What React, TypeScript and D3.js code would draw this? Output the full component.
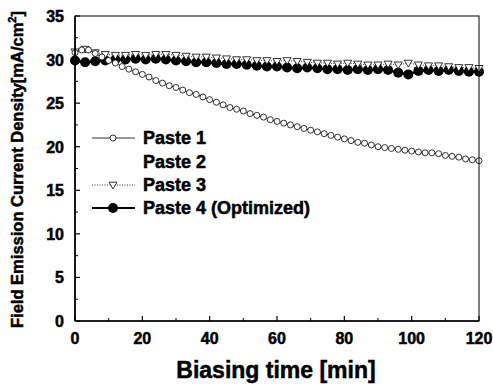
import * as d3 from 'd3';
import React from 'react';

// Paste 1: open circles, every 2 min
const time1 = d3.range(0, 121, 2);
const paste1 = [
  30.8, 31.1, 31.1, 30.7, 30.3, 29.9, 29.6, 29.2, 28.9, 28.6, 28.3, 28.0, 27.6,
  27.3, 27.0, 26.8, 26.5, 26.2, 26.0, 25.7, 25.4, 25.1, 24.8, 24.5, 24.3, 24.1,
  23.8, 23.6, 23.4, 23.1, 22.9, 22.7, 22.5, 22.3, 22.1, 21.9, 21.7, 21.5, 21.3,
  21.1, 20.9, 20.7, 20.5, 20.4, 20.2, 20.0, 19.9, 19.8, 19.7, 19.6, 19.5, 19.4,
  19.3, 19.3, 19.2, 19.0, 18.9, 18.8, 18.6, 18.5, 18.4,
];

// Paste 3 and Paste 4: every 3 min
const time3 = d3.range(0, 121, 3);
const paste3 = [
  30.9, 31.2, 30.8, 30.6, 30.5, 30.5, 30.6, 30.5, 30.6, 30.6, 30.5, 30.4, 30.3,
  30.3, 30.2, 30.1, 30.0, 30.0, 29.9, 29.9, 29.8, 29.9, 29.8, 29.7, 29.6, 29.6,
  29.5, 29.6, 29.5, 29.4, 29.4, 29.5, 29.4, 29.6, 29.4, 29.3, 29.3, 29.2, 29.1,
  29.1, 29.0,
];
const paste4 = [
  29.9, 29.7, 29.8, 29.9, 30.0, 30.0, 30.1, 30.0, 30.1, 30.0, 29.9, 29.8, 29.7,
  29.7, 29.6, 29.5, 29.5, 29.4, 29.3, 29.2, 29.2, 29.1, 29.0, 29.1, 29.0, 28.9,
  28.9, 28.8, 28.9, 28.8, 28.9, 28.8, 28.5, 28.3, 28.7, 28.8, 28.7, 28.8, 28.7,
  28.6, 28.6,
];

const xTicks = [0, 20, 40, 60, 80, 100, 120];
const yTicks = [0, 5, 10, 15, 20, 25, 30, 35];
const legendLabels = ['Paste 1', 'Paste 2', 'Paste 3', 'Paste 4 (Optimized)'];

const font = '"Liberation Sans", Arial, sans-serif';

export default function App() {
  const width = 493;
  const height = 384;
  const left = 75;
  const right = 479;
  const top = 16;
  const bottom = 321;

  const x = d3.scaleLinear().domain([0, 120]).range([left, right]);
  const y = d3.scaleLinear().domain([0, 35]).range([bottom, top]);

  const line = d3
    .line<[number, number]>()
    .x((d) => x(d[0]))
    .y((d) => y(d[1]));

  const s1: [number, number][] = time1.map((t, i) => [t, paste1[i]]);
  const s3: [number, number][] = time3.map((t, i) => [t, paste3[i]]);
  const s4: [number, number][] = time3.map((t, i) => [t, paste4[i]]);

  const tri = (cx: number, cy: number, r: number) =>
    `M${cx - r},${cy - r * 0.7}L${cx + r},${cy - r * 0.7}L${cx},${cy + r}Z`;

  const xMinor = d3.range(10, 120, 20);
  const yMinor = d3.range(2.5, 35, 5);
  const legendY = [138, 162, 185, 208];
  const heavy = { stroke: '#000', strokeWidth: 0.5 };

  return (
    <svg
      width={width}
      height={height}
      style={{ position: 'absolute', left: 0, top: 0, background: '#fff' }}
      fontFamily={font}
      fontWeight="bold"
    >
      <rect x={0} y={0} width={width} height={height} fill="#fff" />

      {/* Paste 4 */}
      <path d={line(s4) || ''} fill="none" stroke="#000" strokeWidth={2.5} />
      {s4.map((d, i) => (
        <circle key={'p4' + i} cx={x(d[0])} cy={y(d[1])} r={5} fill="#000" />
      ))}

      {/* Paste 3 */}
      <path
        d={line(s3) || ''}
        fill="none"
        stroke="#000"
        strokeWidth={0.8}
        strokeDasharray="1,1.5"
      />
      {s3.map((d, i) => (
        <path
          key={'p3' + i}
          d={tri(x(d[0]), y(d[1]), 4)}
          fill="#fff"
          stroke="#000"
          strokeWidth={0.8}
        />
      ))}

      {/* Paste 1 */}
      <path d={line(s1) || ''} fill="none" stroke="#000" strokeWidth={0.8} />
      {s1.map((d, i) => (
        <circle
          key={'p1' + i}
          cx={x(d[0])}
          cy={y(d[1])}
          r={3}
          fill="#fff"
          stroke="#000"
          strokeWidth={0.8}
        />
      ))}

      {/* frame */}
      <rect
        x={left}
        y={top}
        width={right - left}
        height={bottom - top}
        fill="none"
        stroke="#000"
        strokeWidth={1}
      />
      <line x1={left} x2={right} y1={bottom} y2={bottom} stroke="#000" strokeWidth={1.6} />
      <line x1={left} x2={left} y1={top} y2={bottom} stroke="#000" strokeWidth={1.6} />

      {/* x ticks */}
      {xTicks.map((t) => (
        <g key={'xt' + t}>
          <line x1={x(t)} x2={x(t)} y1={bottom} y2={bottom - 5} stroke="#000" strokeWidth={1.2} />
          <text x={x(t)} y={bottom + 23} fontSize={16} textAnchor="middle" {...heavy}>
            {t}
          </text>
        </g>
      ))}
      {xMinor.map((t) => (
        <line key={'xm' + t} x1={x(t)} x2={x(t)} y1={bottom} y2={bottom - 3} stroke="#000" strokeWidth={1} />
      ))}

      {/* y ticks */}
      {yTicks.map((t) => (
        <g key={'yt' + t}>
          <line x1={left} x2={left + 5} y1={y(t)} y2={y(t)} stroke="#000" strokeWidth={1.2} />
          <text x={left - 11} y={y(t) + 6} fontSize={16} textAnchor="end" {...heavy}>
            {t}
          </text>
        </g>
      ))}
      {yMinor.map((t) => (
        <line key={'ym' + t} x1={left} x2={left + 3} y1={y(t)} y2={y(t)} stroke="#000" strokeWidth={1} />
      ))}

      {/* axis titles */}
      <text x={276} y={378} fontSize={23} textAnchor="middle" {...heavy}>
        Biasing time [min]
      </text>
      <text
        transform={`translate(23,${(top + bottom) / 2 + 1}) rotate(-90)`}
        fontSize={16.5}
        textAnchor="middle"
        {...heavy}
      >
        Field Emission Current Density[mA/cm
        <tspan dy={-7} fontSize={11}>2</tspan>
        <tspan dy={7}>]</tspan>
      </text>

      {/* legend */}
      <g>
        <line x1={92} x2={135} y1={legendY[0]} y2={legendY[0]} stroke="#000" strokeWidth={0.8} />
        <circle cx={113} cy={legendY[0]} r={3} fill="#fff" stroke="#000" strokeWidth={0.8} />
        <line
          x1={92}
          x2={135}
          y1={legendY[2]}
          y2={legendY[2]}
          stroke="#000"
          strokeWidth={0.8}
          strokeDasharray="1,1.5"
        />
        <path d={tri(113, legendY[2], 4)} fill="#fff" stroke="#000" strokeWidth={0.8} />
        <line x1={92} x2={135} y1={legendY[3]} y2={legendY[3]} stroke="#000" strokeWidth={2} />
        <circle cx={113} cy={legendY[3]} r={5} fill="#000" />
        {legendLabels.map((l, i) => (
          <text key={l} x={143} y={legendY[i] + 6} fontSize={18} {...heavy}>
            {l}
          </text>
        ))}
      </g>
    </svg>
  );
}
